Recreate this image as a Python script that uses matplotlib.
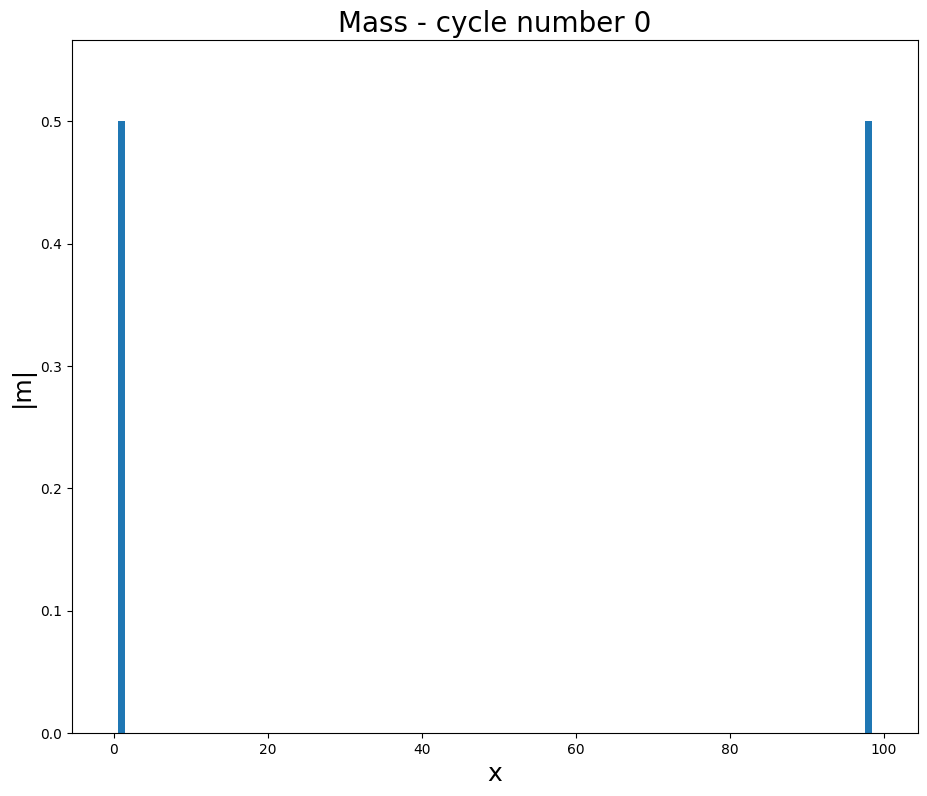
import matplotlib.pyplot as plt
import numpy as np

# mass per cell, cycle 0: two spikes at the ends
x = np.arange(100)
mass = np.zeros(100)
mass[1] = 0.5
mass[98] = 0.5

fig, ax = plt.subplots(figsize=(9.27, 7.96), dpi=100)
fig.subplots_adjust(left=0.0777, right=0.9903, top=0.9497, bottom=0.0791)

ax.bar(x, np.abs(mass), width=0.85)
ax.set_ylim(0, 0.5665)

ax.set_title('Mass - cycle number 0', fontsize=20)
ax.set_xlabel('x', fontsize=18)
ax.set_ylabel('|m|', fontsize=18)

fig.savefig('out.png', dpi=100)
